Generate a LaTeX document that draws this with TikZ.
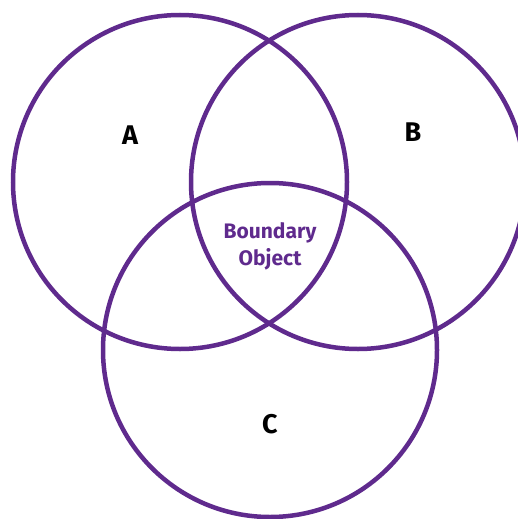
\documentclass[tikz,border=0pt]{standalone}
\usepackage{fontspec}
\setmainfont{Fira Sans}
\usetikzlibrary{positioning}
\definecolor{venn}{HTML}{5F2A8D}

\begin{document}
\begin{tikzpicture}[x=1pt, y=-1pt,
    set/.style={circle, draw=venn, line width=4.5pt, minimum size=334pt, inner sep=0pt},
    setlabel/.style={font=\fontsize{27}{30}\selectfont\bfseries, text=black},
    every node/.style={font=\small}]
  \useasboundingbox (0,0) rectangle (517,519);

  % The three sets
  \node[set] (circA) at (180,182) {};
  \node[set] (circB) at (358,182) {};
  \node[set] (circC) at (270,350) {};

  % Set names
  \node[setlabel] (labA) at (130,135) {A};
  \node[setlabel] (labB) at (413,132) {B};
  \node[setlabel] (labC) at (270,424) {C};

  % Common centre
  \node[align=center, text=venn, font=\fontsize{21}{27}\selectfont\bfseries] (bobj) at (270,246) {Boundary\\Object};
\end{tikzpicture}
\end{document}
